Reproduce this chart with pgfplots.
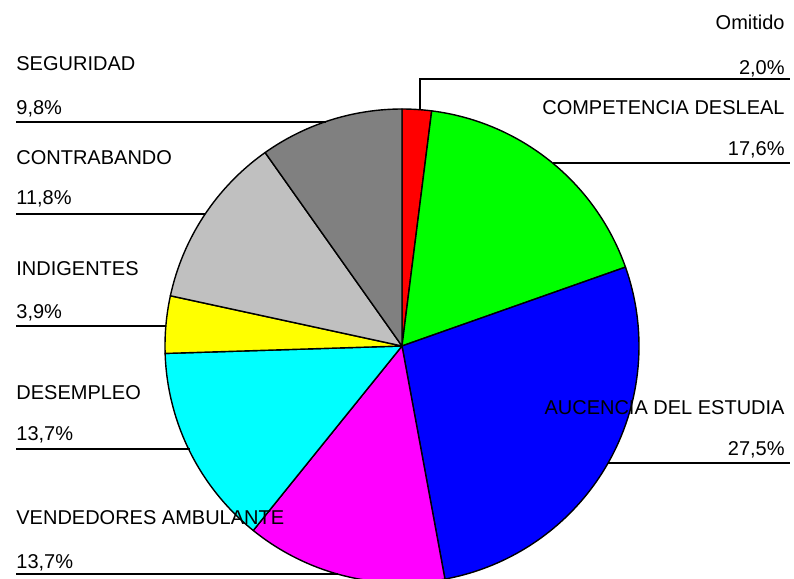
\documentclass[border=0pt]{standalone}
\usepackage{fontspec}
\setmainfont{Liberation Sans}
\usepackage{pgfplots}
\pgfplotsset{compat=1.18}

\definecolor{cOmit}{RGB}{255,0,0}
\definecolor{cComp}{RGB}{0,255,0}
\definecolor{cAuce}{RGB}{0,0,255}
\definecolor{cVend}{RGB}{255,0,255}
\definecolor{cDese}{RGB}{0,255,255}
\definecolor{cIndi}{RGB}{255,255,0}
\definecolor{cCont}{RGB}{192,192,192}
\definecolor{cSegu}{RGB}{128,128,128}

% one slice: cumulative start (%), share (%), colour; clockwise from the top
\newcommand{\slice}[3]{%
  \filldraw[fill=#3, draw=black, line width=0.7pt, line join=round]
    (axis cs:402,346) -- ++({90-3.6*(#1)}:118.5pt)
    arc[start angle={90-3.6*(#1)}, delta angle={-3.6*(#2)}, radius=118.5pt] -- cycle;}
% label: anchor side, x, baseline y (pixels), text
\newcommand{\lbl}[4]{%
  \node[anchor=base #1, inner sep=0pt, font=\fontsize{10}{12}\selectfont]
    at (axis cs:#2,#3) {#4};}

\begin{document}
\begin{tikzpicture}
\begin{axis}[
  width=397pt, height=289.5pt, scale only axis,
  xmin=0, xmax=794, ymin=0, ymax=579,
  y dir=reverse,
  hide axis, clip=false,
]
\addplot[draw=none] coordinates {(0,0)};

\slice{0}{2.0}{cOmit}
\slice{2.0}{17.6}{cComp}
\slice{19.6}{27.5}{cAuce}
\slice{47.1}{13.7}{cVend}
\slice{60.8}{13.7}{cDese}
\slice{74.5}{3.9}{cIndi}
\slice{78.4}{11.8}{cCont}
\slice{90.2}{9.8}{cSegu}

% leader lines
\draw[line width=0.55pt] (axis cs:420,110) -- (axis cs:420,79) -- (axis cs:790,79);
\draw[line width=0.55pt] (axis cs:553,163) -- (axis cs:790,163);
\draw[line width=0.55pt] (axis cs:608,463) -- (axis cs:790,463);
\draw[line width=0.55pt] (axis cs:16,574) -- (axis cs:338,574);
\draw[line width=0.55pt] (axis cs:16,449) -- (axis cs:190,449);
\draw[line width=0.55pt] (axis cs:16,326) -- (axis cs:166,326);
\draw[line width=0.55pt] (axis cs:16,214) -- (axis cs:205,214);
\draw[line width=0.55pt] (axis cs:16,122) -- (axis cs:326,122);

% labels
\lbl{east}{785}{29}{Omitido}
\lbl{east}{785}{74}{2,0\%}
\lbl{east}{785}{114}{COMPETENCIA DESLEAL}
\lbl{east}{785}{155}{17,6\%}
\lbl{east}{785}{414}{AUCENCIA DEL ESTUDIA}
\lbl{east}{785}{455}{27,5\%}
\lbl{west}{16}{70}{SEGURIDAD}
\lbl{west}{16}{114}{9,8\%}
\lbl{west}{16}{164}{CONTRABANDO}
\lbl{west}{16}{204}{11,8\%}
\lbl{west}{16}{275}{INDIGENTES}
\lbl{west}{16}{318}{3,9\%}
\lbl{west}{16}{399}{DESEMPLEO}
\lbl{west}{16}{440}{13,7\%}
\lbl{west}{16}{524}{VENDEDORES AMBULANTE}
\lbl{west}{16}{568}{13,7\%}
\end{axis}
\pgfresetboundingbox
\path (current axis.south west) rectangle (current axis.north east);
\end{tikzpicture}
\end{document}
